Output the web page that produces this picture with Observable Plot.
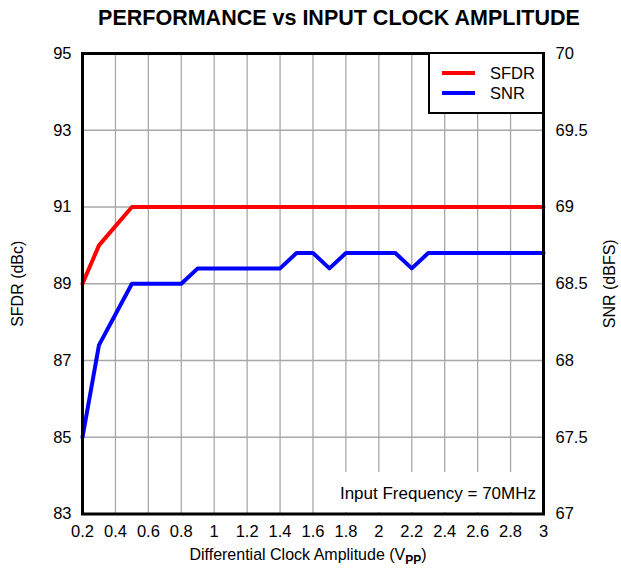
<!DOCTYPE html>
<html>
<head>
<meta charset="utf-8">
<script src="https://cdn.jsdelivr.net/npm/d3@7"></script>
<script src="https://cdn.jsdelivr.net/npm/@observablehq/plot@0.6"></script>
<style>
  body { margin: 0; background: white; font-family: "Liberation Sans", Arial, sans-serif; }
  #wrap { position: relative; width: 621px; height: 570px; overflow: hidden; }
  #title { position: absolute; left: 57px; right: 0; top: 8px; text-align: center; font-weight: bold; font-size: 21.5px; line-height: 1; }
  #chart { position: absolute; left: 0; top: 40px; }
  #caption { position: absolute; left: 82px; width: 452px; top: 545px; text-align: center; font-size: 16px; line-height: 1.2; }
  #caption b { font-size: 12px; }
  #legend { position: absolute; left: 428px; top: 52px; width: 116px; height: 62px; box-sizing: border-box; border: 2px solid black; background: white; }
  .li { position: absolute; left: 12px; height: 18px; display: flex; align-items: center; font-size: 16.5px; }
  .li span.sw { display: inline-block; width: 33px; height: 4px; margin-right: 15px; }
  #note { position: absolute; left: 334px; top: 472px; width: 208px; height: 40px; background: white; font-size: 17px; text-align: right; line-height: 44px; padding-right: 6px; box-sizing: border-box; }
</style>
</head>
<body>
<div id="wrap">
  <div id="title">PERFORMANCE vs INPUT CLOCK AMPLITUDE</div>
  <div id="chart"></div>
  <div id="caption">Differential Clock Amplitude (V<sub><b>PP</b></sub>)</div>
  <div id="legend"></div>
  <div id="note"></div>
</div>
<script>
// ---- data ----
const sfdrX = [0.2, 0.3, 0.5, 3];
const sfdrY = [89, 90, 91, 91];
const snrX = [0.2, 0.3, 0.5, 0.8, 0.9, 1.4, 1.5, 1.6, 1.7, 1.8, 2.1, 2.2, 2.3, 3];
const snrY = [67.5, 68.1, 68.5, 68.5, 68.6, 68.6, 68.7, 68.7, 68.6, 68.7, 68.7, 68.6, 68.7, 68.7];
const xTicks = [0.2, 0.4, 0.6, 0.8, 1, 1.2, 1.4, 1.6, 1.8, 2, 2.2, 2.4, 2.6, 2.8, 3];
const sfdrTicks = [83, 85, 87, 89, 91, 93, 95];
const snrTicks = [67, 67.5, 68, 68.5, 69, 69.5, 70];
const seriesNames = ["SFDR", "SNR"];
const seriesColors = ["#ff0000", "#0000ff"];
const leftLabel = "SFDR (dBc)";
const rightLabel = "SNR (dBFS)";
const noteText = "Input Frequency = 70MHz";

// map SNR (right axis) onto SFDR (left axis) scale
const toLeft = s => sfdrTicks[0] + (s - snrTicks[0]) * (sfdrTicks.at(-1) - sfdrTicks[0]) / (snrTicks.at(-1) - snrTicks[0]);
const fromLeft = v => snrTicks[0] + (v - sfdrTicks[0]) * (snrTicks.at(-1) - snrTicks[0]) / (sfdrTicks.at(-1) - sfdrTicks[0]);

const sfdr = sfdrX.map((x, i) => ({x, y: sfdrY[i]}));
const snr = snrX.map((x, i) => ({x, y: toLeft(snrY[i])}));
const fmt = d => String(+(+d).toFixed(2));

const plot = Plot.plot({
  width: 621,
  height: 505,
  marginTop: 13,
  marginBottom: 31.5,
  marginLeft: 82,
  marginRight: 78,
  style: {fontFamily: '"Liberation Sans", Arial, sans-serif', fontSize: "16px", color: "black", background: "white"},
  x: {domain: [xTicks[0], xTicks.at(-1)]},
  y: {domain: [sfdrTicks[0], sfdrTicks.at(-1)]},
  marks: [
    Plot.gridX(xTicks, {stroke: "#a8a8a8", strokeOpacity: 1, strokeWidth: 1.3}),
    Plot.gridY(sfdrTicks, {stroke: "#a8a8a8", strokeOpacity: 1, strokeWidth: 1.3}),
    Plot.axisX(xTicks, {tickSize: 0, tickPadding: 11.5, tickFormat: fmt, label: null, fontSize: 16.5}),
    Plot.axisY(sfdrTicks, {anchor: "left", tickSize: 0, tickPadding: 11, tickFormat: fmt, label: null, fontSize: 16.5}),
    Plot.axisY(snrTicks.map(toLeft), {anchor: "right", tickSize: 0, tickPadding: 12, tickFormat: d => fmt(fromLeft(d)), label: null, fontSize: 16.5}),
    Plot.text([leftLabel], {text: d => d, frameAnchor: "left", dx: -65, rotate: -90, textAnchor: "middle", fontSize: 16}),
    Plot.text([rightLabel], {text: d => d, frameAnchor: "right", dx: 66, rotate: -90, textAnchor: "middle", fontSize: 16}),
    Plot.line(sfdr, {x: "x", y: "y", stroke: seriesColors[0], strokeWidth: 4}),
    Plot.line(snr, {x: "x", y: "y", stroke: seriesColors[1], strokeWidth: 4}),
    Plot.frame({stroke: "black", strokeWidth: 3})
  ]
});
document.getElementById("chart").appendChild(plot);

// legend
const legend = document.getElementById("legend");
seriesNames.forEach((name, i) => {
  const row = document.createElement("div");
  row.className = "li";
  row.style.top = (10 + i * 20) + "px";
  const sw = document.createElement("span");
  sw.className = "sw";
  sw.style.background = seriesColors[i];
  row.appendChild(sw);
  row.appendChild(document.createTextNode(name));
  legend.appendChild(row);
});
document.getElementById("note").textContent = noteText;
</script>
</body>
</html>
